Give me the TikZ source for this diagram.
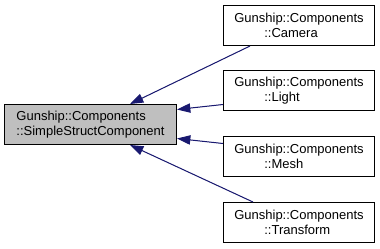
\documentclass[tikz,border=0pt]{standalone}
\usepackage{fontspec}
\setmainfont{Liberation Sans}
\usetikzlibrary{arrows.meta,calc}
\definecolor{edgeblue}{HTML}{191970}
\definecolor{basegray}{HTML}{BFBFBF}
\begin{document}
\begin{tikzpicture}[x=0.75pt,y=-0.75pt,
  every node/.style={font=\fontsize{9.75pt}{11pt}\selectfont},
  classbox/.style={draw=black, line width=0.75pt, anchor=north west,
    minimum width=113.25pt, minimum height=30pt, inner sep=0pt, align=left},
  basebox/.style={classbox, fill=basegray, minimum width=129pt},
  edge/.style={draw=edgeblue, line width=0.75pt,
    -{Triangle[length=10pt,width=7pt]}, fill=edgeblue}]
  % canvas
  \fill[white] (0,0) rectangle (380,248);
  \useasboundingbox (0,0) rectangle (380,248);
  % base class
  \node[basebox] (base) at (4,104)
    {Gunship::Components\\::SimpleStructComponent};
  % derived classes
  \node[classbox] (cam) at (223,5)
    {Gunship::Components\\\hspace*{22.5pt}::Camera};
  \node[classbox] (light) at (223,70)
    {Gunship::Components\\\hspace*{22.5pt}::Light};
  \node[classbox] (mesh) at (223,136)
    {Gunship::Components\\\hspace*{22.5pt}::Mesh};
  \node[classbox] (trans) at (223,202)
    {Gunship::Components\\\hspace*{22.5pt}::Transform};
  % inheritance edges
  \draw[edge] ($(cam.south west)+(27,0)$) -- ($(base.north west)+(126,0)$);
  \draw[edge] ($(light.west)+(0,14)$) -- ($(base.east)+(0,-15)$);
  \draw[edge] ($(mesh.west)+(0,-13)$) -- ($(base.east)+(0,14)$);
  \draw[edge] ($(trans.north west)+(30,0)$) -- ($(base.south west)+(126,0)$);
\end{tikzpicture}
\end{document}
